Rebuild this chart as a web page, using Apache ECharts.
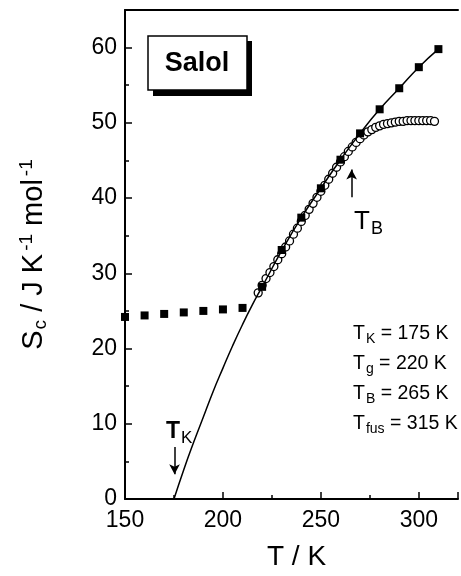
<!DOCTYPE html>
<html>
<head>
<meta charset="utf-8">
<script src="https://cdn.jsdelivr.net/npm/echarts@6/dist/echarts.min.js"></script>
<style>
html, body { margin: 0; padding: 0; background: #fff; }
#chart { width: 461px; height: 576px; }
</style>
</head>
<body>
<div id="chart"></div>
<script>
// fitted line S_c(T)
const lineData = [
  [175, 0], [180, 3.9], [185, 7.5], [190, 10.9], [195, 14.3], [200, 17.4],
  [205, 20.4], [210, 23.2], [215, 25.8], [220, 28.2], [230, 33.0], [240, 37.4],
  [250, 41.3], [260, 45.1], [270, 48.6], [280, 51.8], [290, 54.6], [300, 57.4],
  [310, 59.8]
];

// filled squares sitting on the line
const squareT = [220, 230, 240, 250, 260, 270, 280, 290, 300, 310];
const squareS = [28.2, 33.1, 37.4, 41.3, 45.1, 48.6, 51.8, 54.6, 57.4, 59.8];

// filled squares below Tg (no line)
const lowT = [150, 160, 170, 180, 190, 200, 210];
const lowS = [24.2, 24.4, 24.6, 24.8, 25.0, 25.2, 25.4];

// open circles
const circT = [218, 220, 222, 224, 226, 228, 230, 232, 234, 236, 238, 240, 242, 244, 246, 248,
  250, 252, 254, 256, 258, 260, 262, 264, 266, 268, 270, 272, 274, 276, 278, 280,
  282, 284, 286, 288, 290, 292, 294, 296, 298, 300, 302, 304, 306, 308];
const circS = [27.4, 28.4, 29.3, 30.1, 30.9, 31.8, 32.6, 33.5, 34.3, 35.2, 36.0, 36.9, 37.7, 38.5, 39.3, 40.1,
  40.9, 41.7, 42.5, 43.3, 44.1, 44.8, 45.5, 46.2, 46.8, 47.4, 47.9, 48.4, 48.8, 49.1, 49.4, 49.6,
  49.8, 49.9, 50.0, 50.1, 50.2, 50.2, 50.3, 50.3, 50.3, 50.3, 50.3, 50.3, 50.3, 50.2];

// arrows: [T, from S, to S]
const arrowTK = [175.3, 6.9, 3.3];
const arrowTB = [265.7, 40.1, 43.8];

const font = '"Liberation Sans", Arial, sans-serif';
const pair = (xs, ys) => xs.map((x, i) => [x, ys[i]]);

const myChart = echarts.init(document.getElementById('chart'));

const option = {
  animation: false,
  textStyle: { fontFamily: font, color: '#000' },
  grid: {
    left: 125,
    top: 10,
    right: -6,
    bottom: 70
  },
  xAxis: [{
    type: 'value',
    min: 150,
    max: 320,
    interval: 50,
    name: 'T / K',
    nameLocation: 'middle',
    nameGap: 44,
    nameTextStyle: { fontSize: 28, fontFamily: font, color: '#000', padding: [0, 0, 0, 10] },
    axisLine: { lineStyle: { color: '#000', width: 2 } },
    axisTick: { inside: true, length: 7, lineStyle: { color: '#000', width: 1.5 } },
    minorTick: { show: true, splitNumber: 2, length: 4, lineStyle: { color: '#000', width: 1.5 } },
    axisLabel: {
      fontSize: 23, fontFamily: font, color: '#000', margin: 10,
      formatter: v => (v % 50 === 0 && v < 320) ? String(v) : ''
    },
    splitLine: { show: false }
  }, {
    type: 'value',
    position: 'top',
    min: 150,
    max: 320,
    axisLine: { lineStyle: { color: '#000', width: 2 } },
    axisTick: { show: false },
    axisLabel: { show: false },
    splitLine: { show: false }
  }],
  yAxis: {
    type: 'value',
    min: 0,
    max: 65,
    interval: 10,
    name: '{a|S}{b|c}{a| / J K}{c|-1}{a| mol}{c|-1}',
    nameLocation: 'middle',
    nameGap: 75,
    nameTextStyle: {
      fontFamily: font,
      color: '#000',
      rich: {
        a: { fontSize: 29, fontFamily: font, color: '#000' },
        b: { fontSize: 19, fontFamily: font, color: '#000', padding: [14, 0, 0, 1] },
        c: { fontSize: 19, fontFamily: font, color: '#000', padding: [0, 0, 14, 3] }
      }
    },
    axisLine: { show: true, lineStyle: { color: '#000', width: 2 } },
    axisTick: { inside: true, length: 7, lineStyle: { color: '#000', width: 1.5 } },
    minorTick: { show: true, splitNumber: 2, length: 4, lineStyle: { color: '#000', width: 1.5 } },
    axisLabel: {
      fontSize: 23, fontFamily: font, color: '#000', margin: 8,
      formatter: v => (v % 10 === 0) ? String(v) : ''
    },
    splitLine: { show: false }
  },
  series: [{
    type: 'scatter',
    name: 'open',
    symbol: 'circle',
    symbolSize: 8,
    itemStyle: { color: '#fff', borderColor: '#000', borderWidth: 1.3, opacity: 1 },
    data: pair(circT, circS)
  }, {
    type: 'line',
    name: 'fit',
    smooth: true,
    symbol: 'none',
    lineStyle: { color: '#000', width: 1.5 },
    data: lineData,
    markLine: {
      silent: true,
      symbol: ['none', 'arrow'],
      symbolSize: [8, 10],
      label: { show: false },
      lineStyle: { color: '#000', width: 1.5, type: 'solid' },
      data: [
        [{ coord: [arrowTK[0], arrowTK[1]] }, { coord: [arrowTK[0], arrowTK[2]] }],
        [{ coord: [arrowTB[0], arrowTB[1]] }, { coord: [arrowTB[0], arrowTB[2]] }]
      ]
    }
  }, {
    type: 'scatter',
    name: 'on line',
    symbol: 'rect',
    symbolSize: 8,
    itemStyle: { color: '#000', opacity: 1 },
    data: pair(squareT, squareS)
  }, {
    type: 'scatter',
    name: 'low',
    symbol: 'rect',
    symbolSize: 8,
    itemStyle: { color: '#000', opacity: 1 },
    data: pair(lowT, lowS)
  }],
  graphic: [
    // Salol box with drop shadow
    { type: 'rect', shape: { x: 153, y: 41, width: 99, height: 55 }, style: { fill: '#000' } },
    { type: 'rect', shape: { x: 148, y: 36, width: 99, height: 54 }, style: { fill: '#fff', stroke: '#000', lineWidth: 1.5 } },
    { type: 'text', x: 197, y: 64, style: { text: 'Salol', font: 'bold 27px ' + font, fill: '#000', align: 'center', verticalAlign: 'middle' } },
    // T_K label
    {
      type: 'text', x: 166, y: 432,
      style: {
        text: '{t|T}{s|K}', verticalAlign: 'middle',
        rich: {
          t: { fontSize: 23, fontWeight: 'bold', fontFamily: font, fill: '#000' },
          s: { fontSize: 17, fontFamily: font, fill: '#000', padding: [12, 0, 0, 1] }
        }
      }
    },
    // T_B label
    {
      type: 'text', x: 354, y: 222,
      style: {
        text: '{t|T}{s|B}', verticalAlign: 'middle',
        rich: {
          t: { fontSize: 26, fontFamily: font, fill: '#000' },
          s: { fontSize: 18, fontFamily: font, fill: '#000', padding: [14, 0, 0, 1] }
        }
      }
    },
    // parameter list
    ...[['K', '175'], ['g', '220'], ['B', '265'], ['fus', '315']].map((p, i) => ({
      type: 'text', x: 353, y: 334 + i * 30,
      style: {
        text: '{t|T}{s|' + p[0] + '}{t| = ' + p[1] + ' K}', verticalAlign: 'middle',
        rich: {
          t: { fontSize: 19.5, fontFamily: font, fill: '#000' },
          s: { fontSize: 14, fontFamily: font, fill: '#000', padding: [11, 0, 0, 1] }
        }
      }
    }))
  ]
};

myChart.setOption(option);
</script>
</body>
</html>
